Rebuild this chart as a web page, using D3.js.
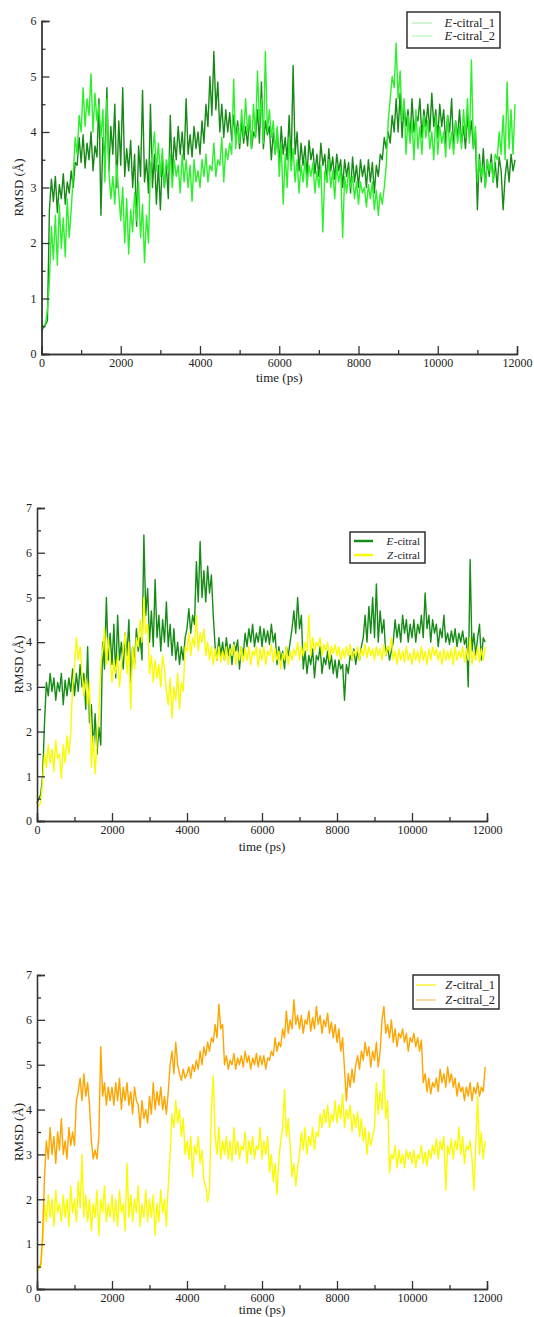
<!DOCTYPE html>
<html>
<head>
<meta charset="utf-8">
<script src="https://cdn.jsdelivr.net/npm/d3@7/dist/d3.min.js"></script>
<style>
  body { margin: 0; background: #fff; }
  svg { display: block; }
</style>
</head>
<body>
<svg id="chart" width="534" height="1317"></svg>
<script>
// RMSD traces, one value every 50 ps (rows = 1000 ps)
const timeStep = 50;
const xTicks = [0, 2000, 4000, 6000, 8000, 10000, 12000];
const yTicks6 = [0, 1, 2, 3, 4, 5, 6];
const yTicks7 = [0, 1, 2, 3, 4, 5, 6, 7];
const serif = '"Liberation Serif", "Times New Roman", Times, serif';

// panel 1
const eCitral1 = [
  0.42,0.48,0.53,0.6,2.6,3.15,2.75,3.2,2.55,3.05,2.8,3.25,2.7,3.1,2.9,3.3,3.0,3.45,3.4,3.9,
  3.45,3.95,3.35,3.8,3.5,4.0,3.3,3.75,3.55,4.6,2.5,3.9,3.5,4.8,3.3,4.1,3.6,4.5,3.0,4.2,
  3.4,4.8,3.2,3.7,3.3,3.85,3.0,3.6,2.3,3.75,3.2,4.75,3.1,3.5,2.9,4.5,3.0,3.6,2.7,3.4,
  2.6,3.5,3.0,3.4,2.8,4.3,3.2,3.9,3.5,4.1,3.6,4.0,3.5,4.6,3.6,3.95,3.55,4.1,3.7,4.0,
  3.6,4.2,3.8,4.5,4.1,5.0,4.3,5.45,4.4,4.9,4.0,4.5,3.9,4.4,4.0,4.35,3.85,4.3,3.9,4.2,
  3.7,4.2,3.8,4.1,3.75,4.3,3.7,4.0,3.9,4.4,3.8,4.9,3.7,4.2,3.95,4.1,3.5,4.0,3.6,4.05,
  3.4,4.1,3.6,3.9,3.5,4.3,3.4,5.2,3.6,4.0,3.3,3.8,3.4,3.75,3.2,3.85,3.5,3.7,3.25,3.6,
  3.2,3.8,3.4,3.6,3.1,3.7,3.3,3.55,3.15,3.6,3.3,3.5,3.0,3.5,3.2,3.45,2.9,3.55,3.1,3.4,
  3.0,3.5,3.2,3.4,3.0,3.5,3.1,3.45,2.9,3.4,3.2,3.6,3.5,3.9,3.7,4.0,3.8,4.3,4.0,4.6,
  4.0,4.7,3.9,4.5,4.1,4.4,3.85,4.6,4.0,4.3,4.2,4.6,3.9,4.4,4.1,4.5,4.0,4.7,4.1,4.4,
  3.9,4.5,4.1,4.4,3.8,4.3,4.0,4.6,3.7,4.2,3.9,4.4,3.8,4.1,3.7,4.3,3.9,4.2,3.7,4.0,
  2.6,3.6,3.1,3.7,3.0,3.5,3.2,3.6,3.1,3.45,3.0,3.55,3.3,2.6,3.2,3.5,3.1,3.6,3.3,3.5
];
const eCitral2 = [
  0.42,0.5,0.55,0.8,1.3,2.3,1.7,2.5,1.6,2.7,1.9,2.45,1.75,2.8,2.1,2.6,3.2,3.9,3.6,4.3,
  4.0,4.8,4.1,4.6,4.3,5.05,4.0,4.7,4.2,4.5,3.9,4.4,3.1,4.6,3.3,2.8,3.2,2.7,3.4,2.9,
  2.4,3.0,2.0,2.8,1.8,2.6,2.2,2.9,2.4,3.1,2.1,2.7,1.65,2.5,2.0,3.4,3.6,4.0,3.3,3.8,
  3.2,3.7,3.0,3.5,3.3,3.6,3.0,3.5,3.2,3.4,2.9,3.6,3.1,3.5,3.0,3.4,2.75,3.5,3.1,3.3,
  3.0,3.5,3.2,3.6,3.1,3.4,3.3,3.8,3.2,3.5,3.4,3.9,3.1,3.7,3.5,3.8,3.6,4.95,3.7,4.1,
  3.8,4.4,3.9,4.6,4.0,4.3,3.7,4.5,3.9,5.1,4.2,4.6,3.8,5.45,4.0,4.4,3.9,4.2,3.6,4.1,
  3.2,3.8,2.7,3.6,3.0,3.9,3.3,3.7,3.1,3.5,2.9,3.4,3.1,3.5,3.0,3.4,3.2,3.45,2.9,3.3,
  3.0,3.4,2.2,3.3,3.1,3.5,3.0,3.3,2.8,3.4,3.1,3.35,2.1,3.2,2.9,3.3,3.0,3.2,2.8,3.1,
  2.7,3.1,2.9,3.0,2.65,3.05,2.8,3.1,2.6,2.95,2.5,2.9,2.7,3.0,3.4,4.2,4.6,5.0,4.8,5.6,
  4.6,5.1,4.2,4.6,3.6,4.3,3.8,4.2,3.5,4.4,3.7,4.1,3.6,4.3,3.9,4.2,3.7,4.0,3.5,4.3,
  3.6,4.1,3.8,4.0,3.55,4.3,3.7,4.0,3.6,4.2,3.8,4.1,3.7,4.4,3.9,4.6,3.8,5.3,3.7,4.1,
  3.1,3.5,3.2,3.4,3.0,3.5,3.3,3.45,3.1,3.6,3.5,4.0,3.6,4.3,3.5,4.9,3.7,4.4,3.6,4.5
];

// panel 2
const eCitral = [
  0.4,0.5,0.6,1.0,2.2,3.1,2.8,3.3,2.9,3.2,2.7,3.1,2.9,3.3,2.6,3.15,2.8,3.2,2.9,3.4,
  2.8,3.3,2.9,3.5,3.0,3.3,2.5,3.9,2.2,2.6,1.6,2.4,1.5,2.1,1.7,4.0,3.4,5.0,3.6,4.2,
  3.5,4.4,3.2,4.6,3.6,4.0,3.4,4.2,3.7,4.5,3.1,3.9,3.5,4.3,3.8,4.1,3.6,6.4,4.6,5.2,
  4.0,4.7,3.9,5.4,4.1,4.6,3.8,4.5,4.0,4.9,3.9,4.4,3.7,4.3,3.6,4.0,3.5,3.9,3.6,4.1,
  4.3,4.75,4.2,4.6,4.4,5.8,4.9,6.25,5.0,5.6,4.9,5.7,5.1,5.5,4.6,3.9,3.6,4.1,3.7,4.0,
  3.6,4.1,3.7,3.95,3.5,4.0,3.8,4.05,3.4,3.9,3.7,4.2,3.9,4.3,4.0,4.4,3.9,4.2,4.0,4.35,
  3.9,4.3,4.0,4.25,3.95,4.4,4.0,4.2,3.5,3.9,3.6,3.8,3.4,3.9,3.7,4.0,4.3,4.7,4.2,5.0,
  4.3,4.6,3.4,3.8,3.3,3.7,3.5,3.85,3.2,3.7,3.6,3.9,3.3,3.65,3.5,3.8,3.4,3.7,3.3,3.6,
  3.2,3.6,3.4,3.5,2.7,3.5,3.3,3.7,3.6,3.85,3.5,3.8,3.6,3.9,4.1,4.6,4.0,4.8,4.2,5.0,
  4.1,5.3,4.0,4.7,4.2,4.5,3.7,3.9,3.6,3.8,4.0,4.5,4.1,4.4,4.0,4.6,4.2,4.5,4.0,4.4,
  4.1,4.5,4.0,4.4,4.2,4.6,4.1,5.1,4.3,4.6,4.0,4.5,4.2,4.4,3.9,4.3,4.1,4.6,4.0,4.2,
  3.95,4.25,4.0,4.3,3.9,4.2,4.0,4.25,3.95,4.1,3.0,5.85,3.8,4.2,3.7,4.1,4.4,3.6,4.1,4.0
];
const zCitral = [
  0.3,0.35,0.4,0.9,1.5,1.2,1.7,1.3,1.6,1.1,1.8,1.4,1.5,0.95,1.7,1.3,1.9,1.5,2.0,3.0,
  3.5,4.1,3.6,3.9,3.3,2.8,3.2,2.6,3.1,1.2,1.9,1.05,1.8,2.4,3.5,3.8,4.3,3.5,4.1,3.6,
  3.1,3.6,3.3,3.7,3.0,3.5,3.8,4.2,3.3,4.0,2.5,3.9,3.4,4.1,3.9,4.5,4.0,5.0,4.2,4.4,
  3.3,3.7,3.1,3.6,3.2,3.5,3.0,3.7,3.4,2.9,2.6,3.2,2.3,3.0,2.7,3.3,2.5,3.1,2.9,3.9,
  3.8,4.2,3.7,4.1,3.9,4.6,3.8,4.2,4.0,4.3,3.7,4.0,3.6,3.9,3.5,3.85,3.6,3.9,3.55,3.8,
  3.6,3.9,3.5,3.85,3.7,3.95,3.5,3.8,3.6,3.9,3.55,3.85,3.6,3.9,3.5,3.8,3.7,3.9,3.45,3.85,
  3.6,3.9,3.5,3.8,3.7,3.95,3.55,3.85,3.6,3.8,3.4,3.75,3.6,3.9,3.5,3.8,3.6,3.85,3.7,4.0,
  3.6,3.9,3.7,4.0,3.8,4.6,3.7,4.1,3.8,4.0,3.9,4.1,3.7,3.95,3.8,4.0,3.6,3.9,3.75,3.95,
  3.7,3.9,3.6,3.85,3.65,3.9,3.7,3.95,3.6,3.8,3.7,3.9,3.6,3.85,3.7,3.95,3.65,3.9,3.7,3.85,
  3.6,3.9,3.7,3.85,3.6,3.95,3.7,3.9,3.8,4.1,3.6,3.8,3.5,3.85,3.6,3.8,3.55,3.9,3.6,3.75,
  3.5,3.85,3.6,3.8,3.55,3.9,3.6,3.8,3.5,3.85,3.6,3.9,3.7,3.85,3.6,3.8,3.5,3.85,3.6,3.8,
  3.6,3.85,3.5,3.9,3.6,3.8,3.65,3.9,3.55,3.85,3.6,4.1,3.5,3.8,3.6,3.9,3.55,3.85,3.6,3.9
];

// panel 3
const zCitral1 = [
  0.4,0.45,0.5,1.0,1.9,1.5,2.1,1.6,2.0,1.4,2.2,1.7,1.9,1.5,2.1,1.6,2.0,1.4,2.3,1.7,
  2.0,1.5,2.4,1.8,3.0,1.6,2.1,1.5,2.0,1.3,1.9,1.6,2.2,1.2,2.0,1.7,2.3,1.5,1.9,1.6,
  2.1,1.5,2.0,1.4,2.2,1.7,1.9,1.3,2.8,1.6,2.1,1.5,2.0,1.7,2.3,1.4,1.9,1.6,2.2,1.5,
  2.0,1.6,2.1,1.2,1.9,1.5,2.2,1.7,2.0,1.4,2.3,3.0,3.9,3.6,4.2,3.7,4.0,3.4,3.8,3.0,
  3.3,2.9,3.4,2.5,3.2,3.0,3.4,2.8,3.1,2.4,2.3,1.95,2.2,4.0,4.75,3.4,3.0,3.6,2.9,3.3,
  3.0,3.4,2.9,3.3,2.85,3.6,3.0,3.3,2.9,3.2,3.1,3.5,2.8,3.3,3.0,3.4,2.9,3.2,3.1,3.6,
  2.9,3.3,3.0,3.4,2.6,3.0,2.4,2.8,2.1,2.9,3.3,3.6,4.45,3.4,3.8,3.2,2.5,2.8,2.3,2.7,
  3.0,3.5,3.1,3.6,3.0,3.4,3.2,3.6,3.1,3.5,3.4,3.9,3.6,4.0,3.7,4.1,3.6,3.9,3.75,4.2,
  3.7,4.1,3.8,4.35,3.6,4.0,3.8,4.1,3.5,3.9,3.6,3.95,3.4,3.8,3.3,3.6,3.0,3.5,3.2,3.4,
  3.6,4.6,3.9,4.4,4.0,4.9,3.8,4.2,2.6,3.0,2.9,3.2,2.7,3.1,2.8,3.0,2.7,3.1,2.9,3.05,
  2.8,3.1,2.7,3.0,2.9,3.2,2.8,3.05,2.75,3.1,2.9,3.2,3.0,3.35,2.9,3.3,3.1,3.4,2.2,3.2,
  3.0,3.35,2.9,3.3,3.1,3.6,3.0,3.4,2.8,3.2,3.1,3.3,2.9,2.2,3.2,4.3,3.0,3.5,2.9,3.3
];
const zCitral2 = [
  0.45,0.5,0.55,1.2,2.5,3.3,2.9,3.6,3.0,3.4,2.8,3.5,3.1,3.8,3.0,3.3,2.9,3.6,3.2,3.5,
  3.2,4.2,4.4,4.7,4.2,4.8,4.3,4.6,4.1,3.3,2.9,3.1,2.9,3.4,5.4,4.3,4.6,4.1,4.5,4.2,
  4.5,4.1,4.6,4.2,4.7,4.0,4.5,4.2,4.6,4.1,4.4,3.9,4.5,4.2,4.1,3.6,4.2,3.8,4.0,3.7,
  4.3,3.9,4.6,4.0,4.4,4.1,4.5,4.0,4.3,3.9,4.4,5.0,5.3,4.8,5.5,5.0,4.8,4.65,4.9,4.7,
  4.8,4.95,4.7,5.0,4.85,5.1,4.9,5.3,5.0,5.4,5.2,5.5,5.3,5.6,5.5,5.9,5.6,6.35,5.8,5.9,
  5.0,5.2,4.9,5.1,5.0,5.25,4.9,5.15,5.0,5.2,4.95,5.3,5.05,5.2,4.9,5.15,5.0,5.25,4.95,5.2,
  5.0,5.2,4.9,5.15,5.1,5.3,5.2,5.6,5.3,5.5,5.4,5.8,5.6,6.2,5.7,6.0,5.8,6.45,5.9,6.1,
  5.8,6.1,5.7,6.0,5.9,6.2,5.75,6.05,5.8,6.3,5.9,6.1,5.7,6.0,5.85,6.15,5.7,5.95,5.6,5.9,
  5.5,5.8,5.3,5.6,4.9,4.2,4.8,4.5,4.9,4.6,5.0,5.2,4.9,5.3,5.1,5.5,5.2,5.4,4.95,5.3,
  5.1,5.5,4.95,5.3,6.0,6.3,5.7,5.9,5.6,6.0,5.5,5.8,5.4,5.7,5.6,5.8,5.5,5.7,5.3,5.6,
  5.5,5.7,5.4,5.6,5.3,5.55,4.6,4.8,4.4,4.7,4.35,4.6,4.5,4.7,4.4,4.9,4.6,4.8,4.5,4.95,
  4.6,4.8,4.5,4.7,4.3,4.6,4.4,4.5,4.2,4.5,4.3,4.6,4.2,4.5,4.35,4.6,4.3,4.5,4.4,4.95
];

const panels = [
  {
    left: 41.5, right: 517, top: 21, bottom: 354, yMax: 6, yTicks: yTicks6, titleY: 382,
    series: [
      { name: 'citral_1', prefix: 'E', values: eCitral1, color: '#168a16', legendColor: '#a6eaa6', legendWidth: 1 },
      { name: 'citral_2', prefix: 'E', values: eCitral2, color: '#2bf02b', legendColor: '#a6f7a6', legendWidth: 1 }
    ],
    legend: { x: 407, y: 12, w: 93, h: 36, lineX: [412, 432], rows: [23, 36], textX: 495, fontSize: 12.5 }
  },
  {
    left: 37, right: 487, top: 508, bottom: 821, yMax: 7, yTicks: yTicks7, titleY: 851,
    series: [
      { name: 'citral', prefix: 'E', values: eCitral, color: '#168c16', legendColor: '#168c16', legendWidth: 2.5 },
      { name: 'citral', prefix: 'Z', values: zCitral, color: '#fafa00', legendColor: '#fafa00', legendWidth: 2.5 }
    ],
    legend: { x: 350, y: 532, w: 75, h: 31, lineX: [354, 373], rows: [541, 555], textX: 420, fontSize: 11 }
  },
  {
    left: 37, right: 487, top: 975, bottom: 1289, yMax: 7, yTicks: yTicks7, titleY: 1314,
    series: [
      { name: 'citral_1', prefix: 'Z', values: zCitral1, color: '#fafa00', legendColor: '#f5f000', legendWidth: 1.2 },
      { name: 'citral_2', prefix: 'Z', values: zCitral2, color: '#ffa500', legendColor: '#ffc35a', legendWidth: 1.2 }
    ],
    legend: { x: 413, y: 975, w: 86, h: 34, lineX: [416, 436], rows: [985, 1000], textX: 495, fontSize: 12.5 }
  }
];

const svg = d3.select('#chart');

panels.forEach(p => {
  const x = d3.scaleLinear().domain([0, 12000]).range([p.left, p.right]);
  const y = d3.scaleLinear().domain([0, p.yMax]).range([p.bottom, p.top]);
  const g = svg.append('g');

  // traces
  const line = d3.line()
    .x((d, i) => x(i * timeStep))
    .y(d => y(d));
  p.series.forEach(s => {
    g.append('path')
      .attr('d', line(s.values))
      .attr('fill', 'none')
      .attr('stroke', s.color)
      .attr('stroke-width', 1.4)
      .attr('stroke-linejoin', 'round');
  });

  // axes - ticks point inward like xmgrace
  const xAxis = d3.axisBottom(x).tickValues(xTicks).tickSize(-8).tickPadding(4).tickFormat(d3.format('d'));
  const xMinor = d3.axisBottom(x).tickValues(d3.range(1000, 12000, 2000)).tickSize(-4).tickFormat('');
  const yAxis = d3.axisLeft(y).tickValues(p.yTicks).tickSize(-8).tickPadding(5).tickFormat(d3.format('d'));
  const yMinor = d3.axisLeft(y).tickValues(p.yTicks.slice(0, -1).map(v => v + 0.5)).tickSize(-4).tickFormat('');

  [xAxis, xMinor].forEach(ax => {
    g.append('g').attr('transform', `translate(0,${p.bottom})`).call(ax);
  });
  [yAxis, yMinor].forEach(ax => {
    g.append('g').attr('transform', `translate(${p.left},0)`).call(ax);
  });
  g.selectAll('.domain').attr('stroke', '#333').attr('stroke-width', 1.3);
  g.selectAll('.tick line').attr('stroke', '#333').attr('stroke-width', 1.3);
  g.selectAll('.tick text')
    .attr('fill', '#222')
    .style('font-family', serif)
    .style('font-size', '12px');

  // titles
  g.append('text')
    .attr('x', (p.left + p.right) / 2)
    .attr('y', p.titleY)
    .attr('text-anchor', 'middle')
    .style('font-family', serif)
    .style('font-size', '13px')
    .attr('fill', '#222')
    .text('time (ps)');
  g.append('text')
    .attr('transform', `translate(18,${(p.top + p.bottom) / 2}) rotate(-90)`)
    .attr('text-anchor', 'middle')
    .attr('dominant-baseline', 'central')
    .style('font-family', serif)
    .style('font-size', '13px')
    .attr('fill', '#222')
    .text('RMSD (Å)');

  // legend
  const L = p.legend;
  g.append('rect')
    .attr('x', L.x).attr('y', L.y).attr('width', L.w).attr('height', L.h)
    .attr('fill', '#fff').attr('stroke', '#222').attr('stroke-width', 1.4);
  p.series.forEach((s, i) => {
    g.append('line')
      .attr('x1', L.lineX[0]).attr('x2', L.lineX[1])
      .attr('y1', L.rows[i]).attr('y2', L.rows[i])
      .attr('stroke', s.legendColor).attr('stroke-width', s.legendWidth);
    // name part, right aligned; italic prefix placed just before it
    const rest = g.append('text')
      .attr('x', L.textX).attr('y', L.rows[i] + 4)
      .attr('text-anchor', 'end')
      .style('font-family', serif)
      .style('font-size', L.fontSize + 'px')
      .attr('fill', '#222')
      .text('-' + s.name);
    const w = rest.node().getComputedTextLength();
    g.append('text')
      .attr('x', L.textX - w - 0.5).attr('y', L.rows[i] + 4)
      .attr('text-anchor', 'end')
      .style('font-family', serif)
      .style('font-size', L.fontSize + 'px')
      .style('font-style', 'italic')
      .attr('fill', '#222')
      .text(s.prefix);
  });
});
</script>
</body>
</html>
